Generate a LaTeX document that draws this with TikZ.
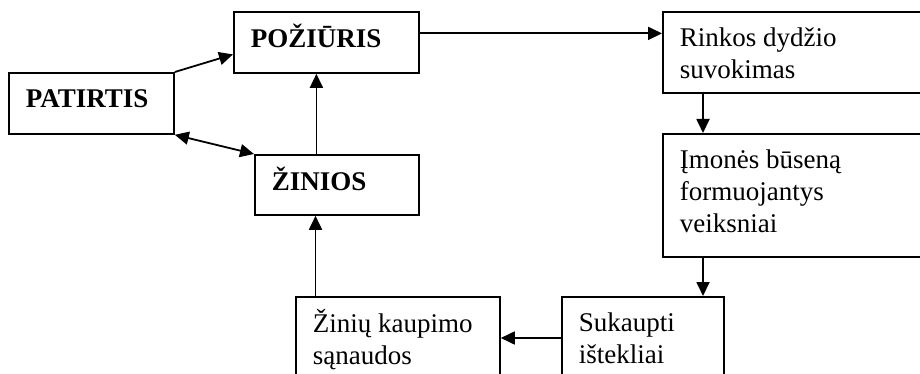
\documentclass[tikz,border=0pt]{standalone}
\usepackage{fontspec}
\setmainfont{Liberation Serif}
\usepackage{tikz}
\usetikzlibrary{arrows.meta,positioning}

% top-aligned text inside a framed box of fixed size
\newcommand{\boxtext}[3]{\parbox[t][#2][t]{#1}{\strut#3}}

\begin{document}
\begin{tikzpicture}[
    x=1pt, y=-1pt,
    box/.style={draw, line width=1.8pt, anchor=north west, inner xsep=17pt,
        inner ysep=12.6pt, font=\fontsize{27}{32}\selectfont},
    title/.style={box, font=\fontsize{27}{32}\selectfont\bfseries},
    arr/.style={line width=1.8pt, -{Triangle[length=14pt,width=13pt]}},
    dbl/.style={line width=1.8pt, {Triangle[length=14pt,width=13pt]}-{Triangle[length=14pt,width=13pt]}}
]
\useasboundingbox (0,0) rectangle (920,374);

% Left part
\node[title] (pat) at (8,72) {\boxtext{131pt}{35.8pt}{PATIRTIS}};
\node[title] (poz) at (233,11) {\boxtext{151pt}{35.8pt}{POŽIŪRIS}};
\node[title] (zin) at (254,154) {\boxtext{130pt}{34.8pt}{ŽINIOS}};

% Right column and bottom row
\node[box] (rink) at (662,11) {\boxtext{234pt}{55.8pt}{Rinkos dydžio\\suvokimas}};
\node[box] (imon) at (662,133) {\boxtext{234pt}{97.8pt}{Įmonės būseną\\formuojantys\\veiksniai}};
\node[box] (suk) at (561,296) {\boxtext{128pt}{64.8pt}{Sukaupti\\ištekliai}};
\node[box] (kaup) at (295,296) {\boxtext{170pt}{64.8pt}{Žinių kaupimo\\sąnaudos}};

% Links
\draw[arr] (pat.north east) -- ([yshift=-12pt]poz.west);
\draw[dbl] (pat.south east) -- (zin.north west);
\draw[arr] ([xshift=-20.5pt]zin.north) -- ([xshift=-20.5pt]zin.north |- poz.south);
\draw[arr] ([yshift=9pt]poz.east) -- ([yshift=9pt]poz.east -| rink.west);
\draw[arr] ([xshift=41pt]rink.south west) -- ([xshift=41pt]rink.south west |- imon.north);
\draw[arr] ([xshift=41pt]imon.south west) -- ([xshift=41pt]imon.south west |- suk.north);
\draw[arr] ([yshift=-42pt]suk.north west) -- ([yshift=-42pt]suk.north west -| kaup.east);
\draw[arr] ([xshift=20.5pt]kaup.north west) -- ([xshift=20.5pt]kaup.north west |- zin.south);
\end{tikzpicture}
\end{document}
